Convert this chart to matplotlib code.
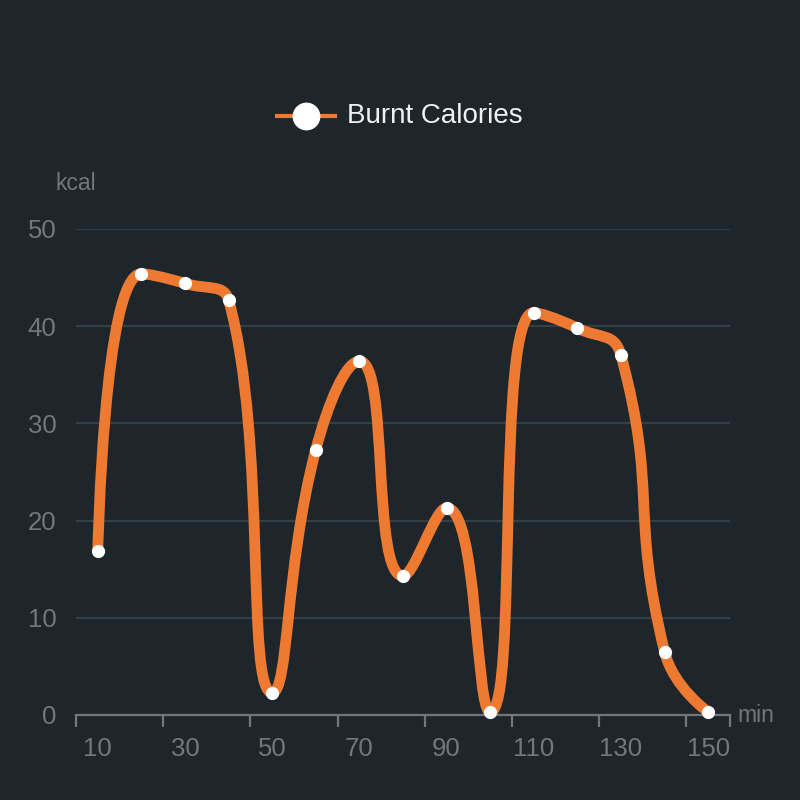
import numpy as np
import matplotlib.pyplot as plt
from matplotlib.path import Path
from matplotlib.patches import PathPatch
from matplotlib.lines import Line2D

# data
minutes = [10, 20, 30, 40, 50, 60, 70, 80, 90, 100, 110, 120, 130, 140, 150]
calories = [16.9, 45.4, 44.4, 42.7, 2.3, 27.3, 36.4, 14.3, 21.3, 0.3, 41.4, 39.8, 37.0, 6.5, 0.3]
y_ticks = [0, 10, 20, 30, 40, 50]
series_name = 'Burnt Calories'

bg = '#1e262c'
orange = '#ee7a32'
axis_grey = '#71777d'
grid_col = '#313f46'

plt.rcParams['font.family'] = ['Liberation Sans', 'DejaVu Sans']


def smooth_path(pts, smooth=0.5):
    # same bezier rule as an echarts smooth line, in pixel space
    verts = [tuple(pts[0])]
    codes = [Path.MOVETO]
    cp0 = tuple(pts[0])
    n = len(pts)
    for i in range(1, n):
        x, y = pts[i]
        px, py = pts[i - 1]
        if i + 1 >= n:
            cp1 = (x, y)
            ncp = (x, y)
        else:
            nx, ny = pts[i + 1]
            vx, vy = nx - px, ny - py
            l0 = np.hypot(x - px, y - py)
            l1 = np.hypot(nx - x, ny - y)
            r = l1 / (l0 + l1)
            ncx = x + vx * smooth * r
            ncy = y + vy * smooth * r
            ncx = max(min(ncx, max(nx, x)), min(nx, x))
            ncy = max(min(ncy, max(ny, y)), min(ny, y))
            vx, vy = ncx - x, ncy - y
            c1x = x - vx * l0 / l1
            c1y = y - vy * l0 / l1
            c1x = max(min(c1x, max(px, x)), min(px, x))
            c1y = max(min(c1y, max(py, y)), min(py, y))
            vx, vy = x - c1x, y - c1y
            ncp = (x + vx * l1 / l0, y + vy * l1 / l0)
            cp1 = (c1x, c1y)
        verts += [cp0, cp1, (x, y)]
        codes += [Path.CURVE4] * 3
        cp0 = ncp
    return np.array(verts), codes


fig = plt.figure(figsize=(8, 8), dpi=100, facecolor=bg)
ax = fig.add_axes([0.095, 0.10625, 0.8175, 0.6075], facecolor=bg)
xi = np.arange(len(minutes))
ax.set_xlim(-0.5, len(minutes) - 0.5)
ax.set_ylim(0, 50)

for s in ['top', 'right', 'left']:
    ax.spines[s].set_visible(False)
ax.spines['bottom'].set_color(axis_grey)
ax.spines['bottom'].set_linewidth(1.6)

for v in y_ticks[1:]:
    ax.axhline(v, color=grid_col, lw=1.6, zorder=1)

ax.set_yticks(y_ticks)
ax.set_yticklabels([str(v) for v in y_ticks])
ax.tick_params(axis='y', length=0, pad=14, labelsize=18.5, labelcolor=axis_grey)

# category labels every other point, ticks on boundaries
ax.set_xticks(xi[::2])
ax.set_xticklabels([str(m) for m in minutes[::2]])
ax.tick_params(axis='x', length=0, pad=16, labelsize=18.5, labelcolor=axis_grey)
bounds = list(np.arange(-0.5, len(minutes) - 0.5, 2)) + [len(minutes) - 0.5]
ax.set_xticks(bounds, minor=True)
ax.tick_params(axis='x', which='minor', length=8.5, width=1.6, color=axis_grey, direction='out')

# smooth line
pix = ax.transData.transform(np.column_stack([xi, calories]))
verts, codes = smooth_path(pix)
verts = ax.transData.inverted().transform(verts)
ax.add_patch(PathPatch(Path(verts, codes), facecolor='none', edgecolor=orange,
                       lw=7.8, capstyle='round', joinstyle='round', zorder=3, clip_on=False))
ax.plot(xi, calories, 'o', color='white', ms=9.5, mec='none', zorder=4, clip_on=False)

# axis names
fig.text(0.095, 1 - 183 / 800, 'kcal', color=axis_grey, fontsize=16.5, ha='center', va='center')
fig.text(737 / 800, 1 - 716 / 800, 'min', color=axis_grey, fontsize=16.5, ha='left', va='center')

# legend
ly = 1 - 116 / 800
fig.add_artist(Line2D([277 / 800, 335 / 800], [ly, ly], color=orange, lw=3))
fig.add_artist(Line2D([306 / 800], [ly], marker='o', ms=20, color='white', mec='none'))
fig.text(347 / 800, ly, series_name, color='#f0f0f0', fontsize=20, ha='left', va='center')

fig.savefig('out.png', dpi=100, facecolor=bg)
